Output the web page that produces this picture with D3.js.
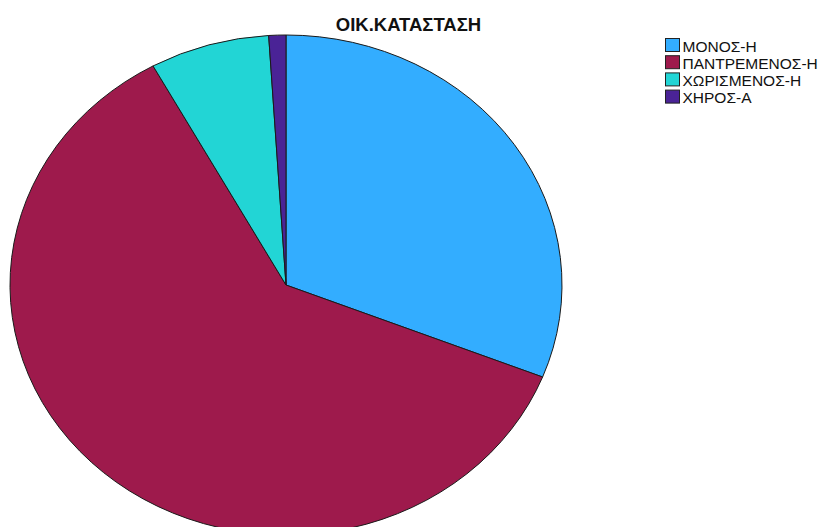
<!DOCTYPE html>
<html>
<head>
<meta charset="utf-8">
<script src="https://cdn.jsdelivr.net/npm/d3@7"></script>
<style>
  html, body { margin: 0; padding: 0; background: #fff; }
  svg { display: block; }
</style>
</head>
<body>
<svg id="chart" width="819" height="527"></svg>
<script>
// Marital status categories and their counts
const categories = ["ΜΟΝΟΣ-Η", "ΠΑΝΤΡΕΜΕΝΟΣ-Η", "ΧΩΡΙΣΜΕΝΟΣ-Η", "ΧΗΡΟΣ-Α"];
const counts = [31, 61, 7, 1];
const colors = ["#33adff", "#9e1a4c", "#22d5d5", "#4a2396"];
const title = "ΟΙΚ.ΚΑΤΑΣΤΑΣΗ";

const svg = d3.select("#chart");

// Elliptical pie: draw on a circle, then stretch horizontally
const cx = 286, cy = 285, rx = 276, ry = 250;

const data = categories.map((c, i) => ({ cat: c, value: counts[i] }));
const color = d3.scaleOrdinal().domain(categories).range(colors);

const pie = d3.pie().value(d => d.value).sort(null);
const arc = d3.arc().innerRadius(0).outerRadius(ry);

const g = svg.append("g")
  .attr("transform", `translate(${cx},${cy}) scale(${rx / ry},1)`);

g.selectAll("path")
  .data(pie(data))
  .join("path")
  .attr("d", arc)
  .attr("fill", d => color(d.data.cat))
  .attr("stroke", "#1a1a1a")
  .attr("stroke-width", 1)
  .attr("vector-effect", "non-scaling-stroke")
  .attr("stroke-linejoin", "round");

// Title
svg.append("text")
  .attr("x", 408.5)
  .attr("y", 30.5)
  .attr("text-anchor", "middle")
  .attr("font-family", "Liberation Sans, Arial, sans-serif")
  .attr("font-weight", "bold")
  .attr("font-size", 18.5)
  .attr("fill", "#111")
  .text(title);

// Legend
const legend = svg.append("g").attr("transform", "translate(665,38)");
const rowH = 17.2;
const items = legend.selectAll("g")
  .data(categories)
  .join("g")
  .attr("transform", (d, i) => `translate(0,${i * rowH})`);

items.append("rect")
  .attr("x", 0.5)
  .attr("y", 0.5)
  .attr("width", 14)
  .attr("height", 13)
  .attr("fill", d => color(d))
  .attr("stroke", "#222")
  .attr("stroke-width", 1);

items.append("text")
  .attr("x", 17.5)
  .attr("y", 13.7)
  .attr("font-family", "Liberation Sans, Arial, sans-serif")
  .attr("font-size", 15.5)
  .attr("fill", "#111")
  .text(d => d);
</script>
</body>
</html>
